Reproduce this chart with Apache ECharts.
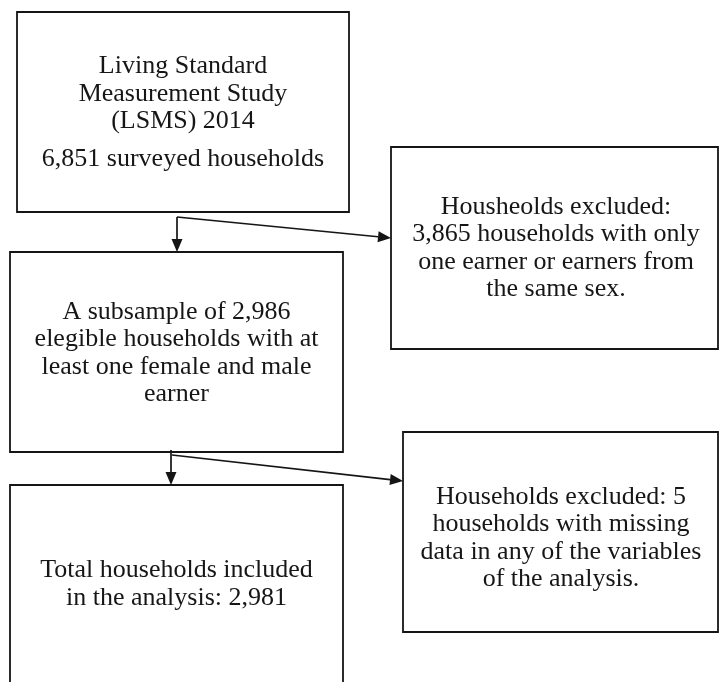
<!DOCTYPE html>
<html>
<head>
<meta charset="utf-8">
<title>LSMS 2014 sample selection</title>
<script src="https://cdn.jsdelivr.net/npm/echarts@6/dist/echarts.min.js"></script>
<style>
  html, body { margin: 0; padding: 0; background: #fff; }
  #flowBox { width: 720px; height: 682px; }
</style>
</head>
<body>
<div id="flowBox"></div>
<script>
// household counts at each step of the sample
const stageCounts = [6851, 2986, 2981];
const excludedCounts = [3865, 5];

const fmt = n => n.toLocaleString('en-US');

// texts of the boxes (left column = kept households, right column = exclusions)
const stageTexts = [
  ['Living Standard', 'Measurement Study', '(LSMS) 2014'],
  ['A subsample of ' + fmt(stageCounts[1]), 'elegible households with at', 'least one female and male', 'earner'],
  ['Total households included', 'in the analysis: ' + fmt(stageCounts[2])]
];
const stageNotes = [fmt(stageCounts[0]) + ' surveyed households'];
const excludedTexts = [
  ['Housheolds excluded:', fmt(excludedCounts[0]) + ' households with only', 'one earner or earners from', 'the same sex.'],
  ['Households excluded: ' + excludedCounts[1], 'households with missing', 'data in any of the variables', 'of the analysis.']
];

// layout of the page (x, y, width, height)
const stageBoxes = [[17, 12, 332, 200], [10, 252, 333, 200], [10, 485, 333, 200]];
const excludedBoxes = [[391, 147, 327, 202], [403, 432, 315, 200]];
// [fromX, fromY, toX, toY]
const arrows = [
  [177, 217, 177, 252], [177, 217, 391, 238],
  [171, 450, 171, 485], [172, 455, 403, 481]
];

const ink = '#151515';
const font = '26px "Liberation Serif", "Times New Roman", serif';

function box(b) {
  return {
    type: 'rect',
    shape: { x: b[0], y: b[1], width: b[2], height: b[3] },
    style: { fill: '#fff', stroke: ink, lineWidth: 1.8 }
  };
}

function label(lines, x, y) {
  return {
    type: 'text',
    x: x, y: y,
    style: {
      text: lines.join('\n'), font: font, fill: '#161616', lineHeight: 27.5,
      align: 'center', verticalAlign: 'middle',
      textAlign: 'center', textVerticalAlign: 'middle'
    }
  };
}

function arrow(a) {
  const dx = a[2] - a[0], dy = a[3] - a[1];
  const len = Math.sqrt(dx * dx + dy * dy);
  const ux = dx / len, uy = dy / len;
  const bx = a[2] - ux * 13, by = a[3] - uy * 13;
  return [
    { type: 'line', shape: { x1: a[0], y1: a[1], x2: bx, y2: by }, style: { stroke: ink, lineWidth: 1.7 } },
    {
      type: 'polygon',
      shape: { points: [[a[2], a[3]], [bx - uy * 5.5, by + ux * 5.5], [bx + uy * 5.5, by - ux * 5.5]] },
      style: { fill: ink }
    }
  ];
}

let elements = [];
stageBoxes.forEach(b => elements.push(box(b)));
excludedBoxes.forEach(b => elements.push(box(b)));

// first box: title block and a separate line with the count
elements.push(label(stageTexts[0], 183, 94));
elements.push(label(stageNotes, 183, 159));
elements.push(label(stageTexts[1], 176.5, 353));
elements.push(label(stageTexts[2], 176.5, 584));
elements.push(label(excludedTexts[0], 556, 248));
elements.push(label(excludedTexts[1], 561, 538));

arrows.forEach(a => { elements = elements.concat(arrow(a)); });

var myChart = echarts.init(document.getElementById('flowBox'));
myChart.setOption({
  animation: false,
  backgroundColor: '#fff',
  graphic: { elements: elements }
});
</script>
</body>
</html>
